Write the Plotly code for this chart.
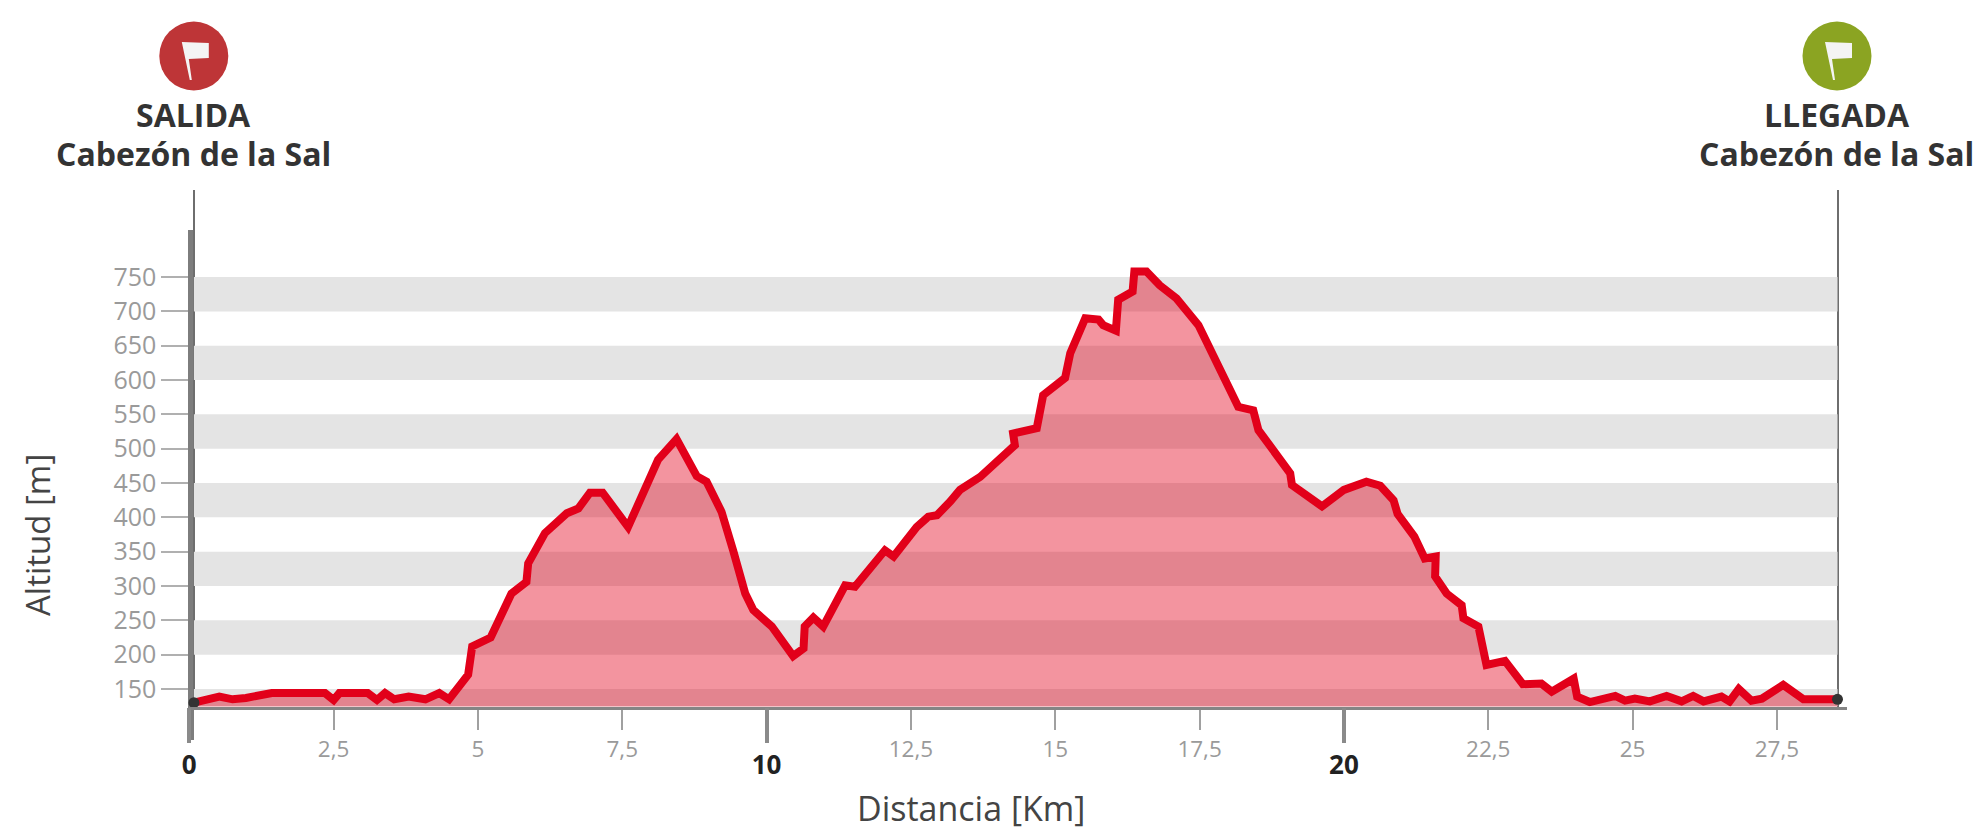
import plotly.graph_objects as go

distance_km = [0.08,0.52,0.75,0.98,1.43,2.35,2.5,2.6,3.09,3.25,3.39,3.55,3.8,4.09,4.33,4.5,4.72,4.83,4.9,5.22,5.58,5.84,5.87,6.16,6.54,6.74,6.94,7.16,7.6,8.12,8.44,8.62,8.79,8.96,9.22,9.42,9.63,9.77,10.09,10.46,10.64,10.66,10.81,10.98,11.36,11.53,12.05,12.2,12.6,12.8,12.95,13.18,13.35,13.7,14.3,14.27,14.68,14.79,15.17,15.26,15.52,15.75,15.83,16.05,16.09,16.34,16.37,16.58,16.81,17.1,17.48,18.17,18.43,18.52,19.07,19.1,19.35,19.62,20.0,20.39,20.63,20.86,20.93,21.22,21.4,21.59,21.58,21.78,22.04,22.07,22.33,22.47,22.79,23.1,23.42,23.6,23.98,24.04,24.26,24.7,24.87,25.04,25.3,25.59,25.85,26.05,26.23,26.54,26.68,26.84,27.06,27.24,27.61,27.96,28.55]
altitude_m = [130,139,135,137,144,144,134,144,144,134,144,135,139,135,144,135,159,171,212,225,289,306,333,377,406,413,436,436,386,484,514,484,460,452,408,352,289,265,241,198,209,241,254,241,301,299,352,343,386,401,403,423,440,459,505,522,530,578,603,639,690,688,680,672,717,729,758,758,738,719,680,561,556,527,464,447,432,416,440,452,446,425,405,372,340,343,314,289,272,253,241,185,191,157,158,146,165,139,131,140,133,136,132,140,132,140,132,139,132,150,133,136,156,135,135]
x_minor_ticks = [2.5,5,7.5,12.5,15,17.5,22.5,25,27.5]
x_minor_labels = ["2,5","5","7,5","12,5","15","17,5","22,5","25","27,5"]
x_major_ticks = [0,10,20]
x_major_labels = ["<b>0</b>","<b>10</b>","<b>20</b>"]
y_ticks = list(range(150,751,50))
band_low = [124.5,200,300,400,500,600,700]
band_high = [150,250,350,450,550,650,750]

W,H = 1977,830
def px(v): return v/W
def py(v): return 1-v/H
FONT = "Open Sans"
L,R,T,B = 189.3,1847,190,706.5

fig = go.Figure()
fig.add_trace(go.Scatter(x=distance_km,y=altitude_m,mode="lines",fill="tozeroy",
    fillcolor="rgba(226,0,26,0.42)",line=dict(color="#E2001A",width=8),hoverinfo="x+y"))
fig.add_trace(go.Scatter(x=[distance_km[0],distance_km[-1]],y=[altitude_m[0],altitude_m[-1]],mode="markers",
    marker=dict(color="#333333",size=11),cliponaxis=False,hoverinfo="skip"))
fig.add_trace(go.Scatter(x=x_major_ticks,y=[None]*3,xaxis="x2",yaxis="y",showlegend=False))

shapes = []
for lo,hi in zip(band_low,band_high):
    shapes.append(dict(type="rect",xref="x",yref="y",x0=0.08,x1=28.55,y0=lo,y1=hi,
                       fillcolor="#E4E4E4",line_width=0,layer="below"))
shapes.append(dict(type="line",xref="paper",yref="paper",x0=px(191),x1=px(191),layer="below",
                   y0=py(740),y1=py(230),line=dict(color="#7D7D7D",width=6)))
for xp in (194,1838):
    shapes.append(dict(type="line",xref="paper",yref="paper",x0=px(xp),x1=px(xp),layer="below",
                       y0=py(708),y1=py(190),line=dict(color="#6E6E6E",width=2)))
for cx,col in ((193.8,"#BE3537"),(1837,"#8BA422")):
    ax=px(cx); ay=py(56)
    shapes.append(dict(type="circle",xref="paper",yref="paper",xsizemode="pixel",ysizemode="pixel",
                       xanchor=ax,yanchor=ay,x0=-34.5,x1=34.5,y0=-34.5,y1=34.5,fillcolor=col,line_width=0))
    shapes.append(dict(type="path",xref="paper",yref="paper",xsizemode="pixel",ysizemode="pixel",
                       xanchor=ax,yanchor=ay,path="M-12,14 L15,13 L15,-2 L-5,-3 L-2,-24 L-4,-24 Z",
                       fillcolor="#F4F4F4",line_width=0))

anns = []
for cx,t1,t2 in ((193.5,"SALIDA","Cabezón de la Sal"),(1836.5,"LLEGADA","Cabezón de la Sal")):
    for txt,yc in ((t1,115),(t2,154)):
        anns.append(dict(text=f"<b>{txt}</b>",xref="paper",yref="paper",x=px(cx),y=py(yc),
                         xanchor="center",yanchor="middle",showarrow=False,
                         font=dict(family=FONT,size=32,color="#333333")))
anns.append(dict(text="Distancia [Km]",xref="paper",yref="paper",x=px(971),y=py(808),xanchor="center",yanchor="middle",
                 showarrow=False,font=dict(family=FONT,size=34,color="#444444")))
anns.append(dict(text="Altitud [m]",xref="paper",yref="paper",x=px(37),y=py(535),xanchor="center",yanchor="middle",
                 textangle=-90,showarrow=False,font=dict(family=FONT,size=33,color="#444444")))

fig.update_layout(width=W,height=H,margin=dict(l=0,r=0,t=0,b=0,autoexpand=False),autosize=False,showlegend=False,
    paper_bgcolor="white",plot_bgcolor="white",shapes=shapes,annotations=anns,font=dict(family=FONT),
    xaxis=dict(domain=[px(L),px(R)],range=[0,(R-L)/57.73],tickvals=x_minor_ticks,ticktext=x_minor_labels,
               ticks="outside",ticklen=20,tickwidth=2,tickcolor="#A0A0A0",showgrid=False,zeroline=False,
               showline=True,linecolor="#858585",linewidth=3,tickfont=dict(size=22.5,color="#9A9A9A",family=FONT)),
    xaxis2=dict(domain=[px(L),px(R)],range=[0,(R-L)/57.73],overlaying="x",anchor="y",side="bottom",
               tickvals=x_major_ticks,ticktext=x_major_labels,ticks="outside",ticklen=35,tickwidth=4,
               tickcolor="#8A8A8A",showgrid=False,zeroline=False,showline=False,
               tickfont=dict(size=26,color="#222222",family=FONT)),
    yaxis=dict(domain=[py(B),py(T)],range=[150+(689-B)*1.4565,150+(689-T)*1.4565],tickvals=y_ticks,
               ticks="outside",ticklen=27,tickwidth=2,tickcolor="#B0B0B0",showgrid=False,zeroline=False,
               showline=False,tickfont=dict(size=25,color="#9A9A9A",family=FONT)))
fig.write_html("out.html",config=dict(displayModeBar=False),post_script="document.body.style.margin='0';")
